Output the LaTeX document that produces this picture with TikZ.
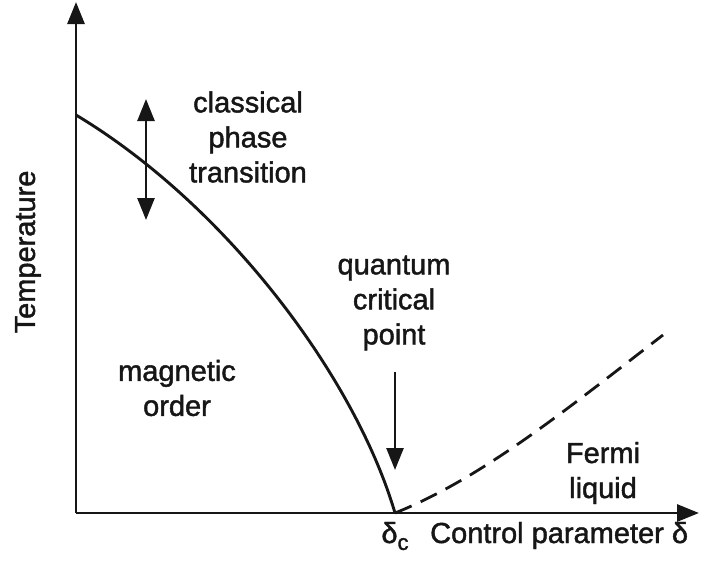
\documentclass[tikz,border=0pt]{standalone}
\usepackage{fontspec}
\setmainfont{Liberation Sans}[RawFeature={embolden=1.5}]
\usetikzlibrary{arrows.meta}
\definecolor{ink}{HTML}{161616}
\tikzset{
  lbl/.style={font=\fontsize{29}{35}\selectfont, text=ink, align=center, inner sep=0pt},
  axisline/.style={draw=ink, line width=2.9pt, -{Triangle[length=22pt,width=17pt]}},
  curveline/.style={draw=ink, line width=2.9pt},
  dashline/.style={draw=ink, line width=2.8pt, dash pattern=on 18pt off 10pt},
  pointer/.style={draw=ink, line width=2.6pt, -{Triangle[length=22pt,width=17pt]}},
  dpointer/.style={draw=ink, line width=2.6pt, {Triangle[length=22pt,width=17pt]}-{Triangle[length=22pt,width=17pt]}}
}
\begin{document}
\begin{tikzpicture}[x=1pt,y=-1pt]
\useasboundingbox (0,0) rectangle (704,562);
% axes
\coordinate (origin) at (76,513);
\coordinate (ytip) at (76,2);
\coordinate (xtip) at (699,513);
\draw[axisline] (origin) -- (ytip);
\draw[axisline] (origin) -- (xtip);
% phase boundary
\coordinate (tc) at (76,115);
\coordinate (qcp) at (395,513);
\draw[curveline] (tc) .. controls (226,205) and (355,377) .. (qcp);
% crossover (dashed)
\coordinate (fl) at (663,335);
\draw[dashline] (qcp) .. controls (485,477) and (573,404) .. (fl);
% arrows
\coordinate (dtop) at (146,99);
\coordinate (dbot) at (146,220);
\draw[dpointer] (dtop) -- (dbot);
\coordinate (atop) at (395,372);
\coordinate (abot) at (395,470);
\draw[pointer] (atop) -- (abot);
% labels
\node[lbl] (cpt) at (248,137) {classical\\phase\\transition};
\node[lbl] (qcpl) at (394,303) {quantum\\critical\\point};
\node[lbl] (mo) at (177,388) {magnetic\\order};
\node[lbl] (fermi) at (603,473) {Fermi\\liquid};
\node[lbl, rotate=90] (temp) at (28,252) {Temperature};
\node[lbl, anchor=base] (dc) at (395,543) {δ\raisebox{-0.45ex}{\fontsize{22}{22}\selectfont c}};
\node[lbl, anchor=base west] (cp) at (430,543) {Control parameter δ};
\end{tikzpicture}
\end{document}
